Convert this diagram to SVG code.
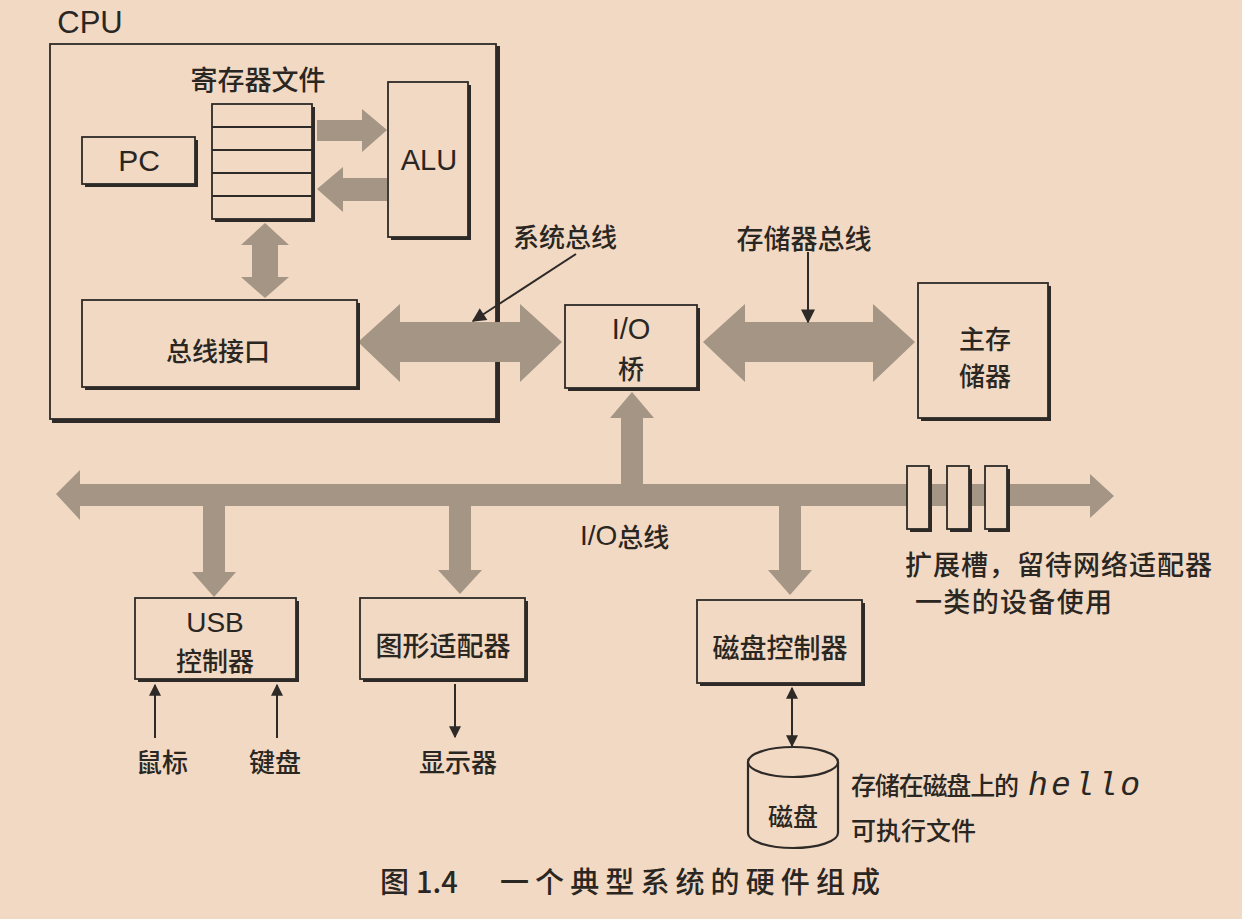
<svg xmlns="http://www.w3.org/2000/svg" width="1242" height="919" viewBox="0 0 1242 919">
<style>
.bg{fill:#f1d9c4}
.box{fill:#f1d9c4;stroke:#2e2a27;stroke-width:1.8}
.sh{fill:#2e2a27}
.fat{fill:#a49585}
.ln{stroke:#2e2a27;stroke-width:2;fill:none}
.cj{font-family:"Noto Sans CJK SC","Noto Sans",sans-serif;font-weight:500;fill:#2a2622;text-anchor:middle;dominant-baseline:central}
.cl{font-family:"Noto Sans CJK SC","Noto Sans",sans-serif;font-weight:500;fill:#2a2622;dominant-baseline:central}
.lt{font-family:"Liberation Sans",Arial,sans-serif;fill:#2a2622;text-anchor:middle;dominant-baseline:central}
</style>
<defs>
<marker id="ah" viewBox="0 0 10 10" refX="9" refY="5" markerWidth="14" markerHeight="12" markerUnits="userSpaceOnUse" orient="auto-start-reverse">
<path d="M0,0 L10,5 L0,10 z" fill="#2e2a27"/>
</marker>
<marker id="ah2" viewBox="0 0 10 10" refX="9" refY="5" markerWidth="15" markerHeight="14" markerUnits="userSpaceOnUse" orient="auto-start-reverse">
<path d="M0,0 L10,5 L0,10 z" fill="#2e2a27"/>
</marker>
</defs>
<rect class="bg" x="0" y="0" width="1242" height="919"/>

<g id="cpu">
<rect class="sh" x="52" y="46" width="448" height="377"/>
<rect class="box" x="50" y="44" width="446" height="375"/>
<text class="lt" x="90" y="22" font-size="31">CPU</text>
</g>

<g id="connectors">
<polygon class="fat" points="317,120 362,120 362,109 387,130 362,152 362,141 317,141"/>
<polygon class="fat" points="387,178 343,178 343,167 317,189 343,212 343,201 387,201"/>
<polygon class="fat" points="265,223 289,245 278,245 278,277 289,277 265,298 241,277 252,277 252,245 241,245"/>
<polygon class="fat" points="358,342 400,304 400,322 520,322 520,304 562,342 520,382 520,362 400,362 400,382"/>
<polygon class="fat" points="703,342 745,304 745,322 873,322 873,304 915,342 873,382 873,362 745,362 745,382"/>
<polygon class="fat" points="56,494 80,470 80,484 1090,484 1090,474 1114,496 1090,518 1090,506 80,506 80,520"/>
<polygon class="fat" points="632,392 654,418 643,418 643,486 621,486 621,418 610,418"/>
<polygon class="fat" points="203,504 225,504 225,572 236,572 214,597 192,572 203,572"/>
<polygon class="fat" points="449,504 471,504 471,570 482,570 460,594 438,570 449,570"/>
<polygon class="fat" points="779,504 801,504 801,570 812,570 790,595 768,570 779,570"/>
<line class="ln" x1="576" y1="254" x2="473" y2="321" marker-end="url(#ah2)"/>
<line class="ln" x1="808" y1="252" x2="808" y2="322" marker-end="url(#ah2)"/>
<line class="ln" x1="155" y1="738" x2="155" y2="685" marker-end="url(#ah)"/>
<line class="ln" x1="277" y1="738" x2="277" y2="685" marker-end="url(#ah)"/>
<line class="ln" x1="455" y1="684" x2="455" y2="737" marker-end="url(#ah)"/>
<line class="ln" x1="792" y1="688" x2="792" y2="746" marker-start="url(#ah)" marker-end="url(#ah)"/>
</g>

<g id="regfile">
<text class="cj" x="258" y="78" font-size="27" font-weight="700">寄存器文件</text>
<rect class="sh" x="215" y="107" width="100" height="115"/>
<rect class="box" x="212" y="104" width="100" height="115"/>
<line class="ln" x1="212" y1="127" x2="312" y2="127" stroke-width="1.5"/>
<line class="ln" x1="212" y1="150" x2="312" y2="150" stroke-width="1.5"/>
<line class="ln" x1="212" y1="173" x2="312" y2="173" stroke-width="1.5"/>
<line class="ln" x1="212" y1="196" x2="312" y2="196" stroke-width="1.5"/>
</g>

<g id="pc">
<rect class="sh" x="85" y="140" width="113" height="47"/>
<rect class="box" x="82" y="137" width="113" height="47"/>
<text class="lt" x="139" y="160" font-size="30">PC</text>
</g>

<g id="alu">
<rect class="sh" x="391" y="85" width="80" height="155"/>
<rect class="box" x="388" y="82" width="80" height="155"/>
<text class="lt" x="429" y="160" font-size="29">ALU</text>
</g>

<g id="businterface">
<rect class="sh" x="85" y="303" width="275" height="87"/>
<rect class="box" x="82" y="300" width="275" height="87"/>
<text class="cj" x="218" y="349" font-size="26">总线接口</text>
</g>

<g id="iobridge">
<rect class="sh" x="568" y="308" width="132" height="83"/>
<rect class="box" x="565" y="305" width="132" height="83"/>
<text class="lt" x="631" y="329" font-size="29">I/O</text>
<text class="cj" x="631" y="367" font-size="26">桥</text>
</g>

<g id="mainmemory">
<rect class="sh" x="921" y="286" width="130" height="135"/>
<rect class="box" x="918" y="283" width="130" height="135"/>
<text class="cj" x="985" y="337" font-size="26">主存</text>
<text class="cj" x="985" y="374" font-size="26">储器</text>
</g>

<g id="labels">
<text class="cj" x="565" y="235" font-size="26">系统总线</text>
<text class="cj" x="804" y="237" font-size="27">存储器总线</text>
<text class="cl" x="580" y="535" font-size="26"><tspan font-family="Liberation Sans, Arial, sans-serif" font-size="28">I/O</tspan>总线</text>
<text class="cl" x="905" y="563" font-size="27" textLength="307" lengthAdjust="spacing">扩展槽，留待网络适配器</text>
<text class="cl" x="915" y="600" font-size="27" textLength="197" lengthAdjust="spacing">一类的设备使用</text>
</g>

<g id="slots">
<rect class="sh" x="910" y="469" width="22" height="63"/>
<rect class="box" x="907" y="466" width="22" height="63"/>
<rect class="sh" x="950" y="469" width="22" height="63"/>
<rect class="box" x="947" y="466" width="22" height="63"/>
<rect class="sh" x="988" y="469" width="22" height="63"/>
<rect class="box" x="985" y="466" width="22" height="63"/>
</g>

<g id="usb">
<rect class="sh" x="138" y="601" width="161" height="81"/>
<rect class="box" x="135" y="598" width="161" height="81"/>
<text class="lt" x="215" y="622" font-size="28">USB</text>
<text class="cj" x="215" y="659" font-size="26">控制器</text>
</g>

<g id="graphics">
<rect class="sh" x="363" y="601" width="165" height="81"/>
<rect class="box" x="360" y="598" width="165" height="81"/>
<text class="cj" x="443" y="644" font-size="27">图形适配器</text>
</g>

<g id="diskctrl">
<rect class="sh" x="700" y="603" width="165" height="83"/>
<rect class="box" x="697" y="600" width="165" height="83"/>
<text class="cj" x="780" y="646" font-size="27">磁盘控制器</text>
</g>

<g id="io-devices">
<text class="cj" x="162" y="760" font-size="26">鼠标</text>
<text class="cj" x="275" y="760" font-size="26">键盘</text>
<text class="cj" x="458" y="760" font-size="26">显示器</text>
</g>

<g id="disk">
<path d="M748,762 L748,833 A45,15 0 0 0 838,833 L838,762" fill="#f1d9c4" stroke="#2e2a27" stroke-width="2.2"/>
<ellipse cx="793" cy="762" rx="45" ry="15" fill="#f1d9c4" stroke="#2e2a27" stroke-width="2.2"/>
<text class="cj" x="793" y="815" font-size="25">磁盘</text>
<text class="cl" x="851" y="784" font-size="25" textLength="168" lengthAdjust="spacing">存储在磁盘上的</text>
<text x="1028" y="786" font-family="Liberation Mono, Courier New, monospace" font-style="italic" font-size="33" fill="#2a2622" dominant-baseline="central" textLength="112" lengthAdjust="spacing">hello</text>
<text class="cl" x="851" y="829" font-size="25">可执行文件</text>
</g>

<g id="caption">
<text class="cl" x="380" y="880" font-size="29" font-weight="700">图<tspan x="416">1.4</tspan><tspan x="500" textLength="380" lengthAdjust="spacing">一个典型系统的硬件组成</tspan></text>
</g>
</svg>
